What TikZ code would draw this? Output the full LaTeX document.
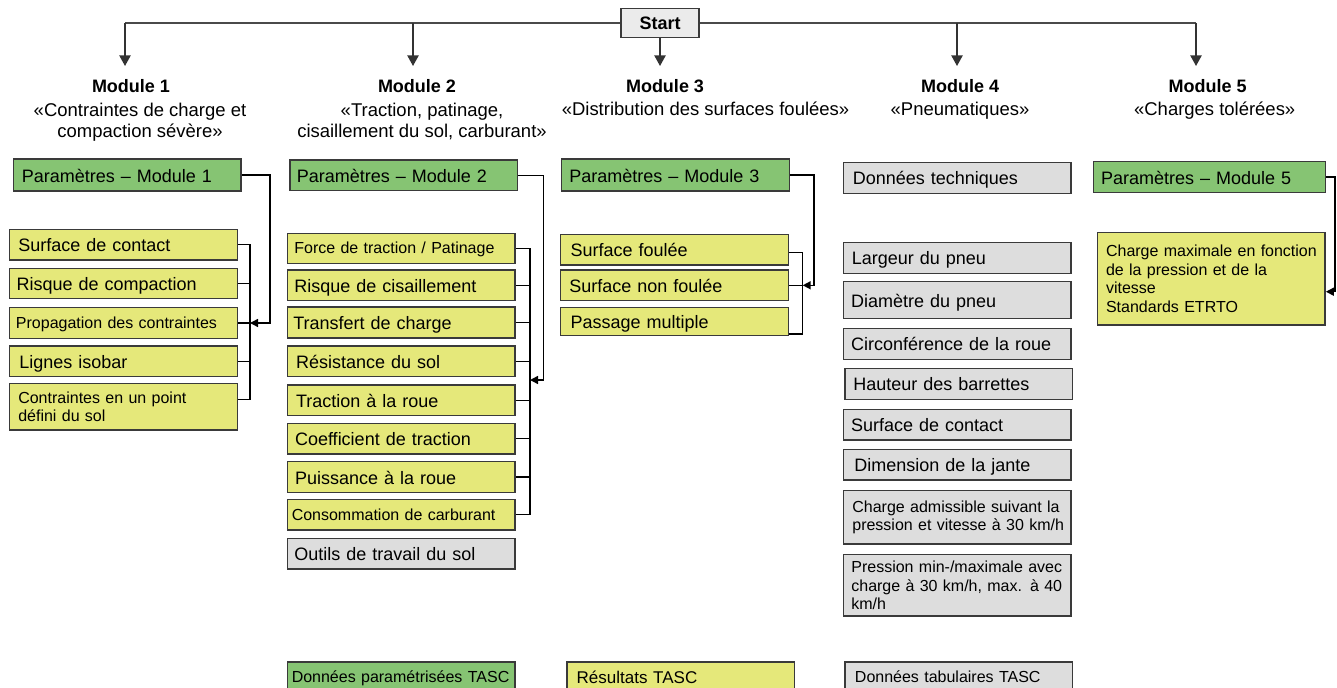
\documentclass[tikz,border=0pt]{standalone}
\usepackage{fontspec}
\setmainfont{Liberation Sans}
\usetikzlibrary{arrows.meta}
\definecolor{gcol}{HTML}{86C473}
\definecolor{ycol}{HTML}{E5E87A}
\definecolor{grcol}{HTML}{DDDDDD}
\definecolor{bcol}{HTML}{3A3A3A}
\definecolor{lcol}{HTML}{4A4A4A}
\definecolor{stcol}{HTML}{EBEBEB}
\tikzset{
  bw/.code 2 args={%
    \pgfmathsetlengthmacro\bwtw{(#1-2*#2)*0.75pt}%
    \pgfmathsetlengthmacro\bwmw{#1*0.75pt}%
    \pgfmathsetlengthmacro\bwxs{#2*0.75pt}%
    \edef\bwtmp{\noexpand\pgfkeysalso{minimum width=\bwmw, inner xsep=\bwxs, text width=\bwtw}}\bwtmp},
  bh/.style={minimum height=#1*0.75pt},
  box/.style={draw=bcol, line width=1.2pt, align=left, inner ysep=0pt},
  gbox/.style={box, fill=gcol},
  ybox/.style={box, fill=ycol},
  grbox/.style={box, fill=grcol},
  one/.style={font=\fontsize{13.5}{16}\selectfont, text height=13.5pt, text depth=3pt},
  onesm/.style={font=\fontsize{12}{13.5}\selectfont, text height=11.25pt, text depth=3pt},
  onemid/.style={font=\fontsize{12.75}{15}\selectfont, text height=12.5pt, text depth=3pt},
  multi/.style={font=\fontsize{12}{13.8}\selectfont},
  ttl/.style={font=\bfseries\fontsize{13.5}{16}\selectfont, inner sep=0pt},
  sub/.style={font=\fontsize{13.85}{15.75}\selectfont, align=center, inner sep=0pt},
  topline/.style={draw=lcol, line width=1.1pt},
  darr/.style={draw=black!80, line width=1.1pt, -{Triangle[width=8.5pt,length=8pt]}},
  conn/.style={draw=black, line width=1.1pt},
  sarr/.style={conn, -{Triangle[width=6pt,length=6pt]}},
}
\begin{document}
\begin{tikzpicture}[x=0.75pt,y=-0.75pt]
\path[use as bounding box] (0,0) rectangle (1337,688);
\clip (0,0) rectangle (1337,688);

% Start and top distribution
\node[draw=bcol, line width=1.2pt, fill=stcol, font=\bfseries\fontsize{13.5}{16}\selectfont,
      minimum width=78*0.75pt, minimum height=29*0.75pt, inner sep=0pt] (start) at (660,23) {Start};
\coordinate (c1) at (125,23);
\coordinate (c2) at (413,23);
\coordinate (c4) at (957,23);
\coordinate (c5) at (1196,23);
\coordinate (e1) at (125,66);
\coordinate (e2) at (413,66);
\coordinate (e3) at (660,66);
\coordinate (e4) at (957,66);
\coordinate (e5) at (1196,66);
\draw[topline] (start.west) -- (c1);
\draw[topline] (start.east) -- (c5);
\draw[darr] (c1) -- (e1);
\draw[darr] (c2) -- (e2);
\draw[darr] (start.south) -- (e3);
\draw[darr] (c4) -- (e4);
\draw[darr] (c5) -- (e5);

% Module titles
\node[ttl, anchor=base] (t1) at (131,92.7) {Module 1};
\node[sub, anchor=north] (s1) at (140,102.7) {«Contraintes de charge et\\compaction sévère»};
\node[ttl, anchor=base] (t2) at (417,92.7) {Module 2};
\node[sub, anchor=north] (s2) at (422,102.7) {«Traction, patinage,\\cisaillement du sol, carburant»};
\node[ttl, anchor=base] (t3) at (665,92.7) {Module 3};
\node[sub, anchor=north] (s3) at (705.5,101.7) {«Distribution des surfaces foulées»};
\node[ttl, anchor=base] (t4) at (960,92.7) {Module 4};
\node[sub, anchor=north] (s4) at (960,101.7) {«Pneumatiques»};
\node[ttl, anchor=base] (t5) at (1207.7,92.7) {Module 5};
\node[sub, anchor=north] (s5) at (1214.7,101.2) {«Charges tolérées»};

% Module 1
\node[gbox,one,bw={227.7}{8.4},bh=31.4] (p1) at (127.2,175) {Paramètres – Module 1};
\node[ybox,one,bw={228}{9},bh=30.7] (sc1) at (123.3,244.7) {Surface de contact};
\node[ybox,one,bw={228}{7.3},bh=30] (rc) at (123.3,283.3) {Risque de compaction};
\node[ybox,onesm,bw={228}{6.7},bh=30.7] (pc) at (123.3,323) {\mbox{Propagation des contraintes}};
\node[ybox,one,bw={228}{10},bh=30.7] (li) at (123.3,361.3) {Lignes isobar};
\node[ybox,multi,bw={228}{9},bh=46.7] (cp) at (123.3,406.7) {Contraintes en un point\\défini du sol};
\coordinate (j1b) at (250,399.3);
\draw[conn] (sc1.east) -| (j1b) -- (j1b -| cp.east);
\draw[conn] (rc.east) -- (rc.east -| j1b);
\draw[conn] (pc.east) -- (pc.east -| j1b);
\draw[conn] (li.east) -- (li.east -| j1b);
\draw[sarr] (p1.east) -- ++(28.3,0) |- (pc.east -| j1b);

% Module 2
\node[gbox,one,bw={227.3}{6.7},bh=30.7] (p2) at (403.7,175.3) {Paramètres – Module 2};
\node[ybox,onesm,bw={227.7}{7},bh=30] (ft) at (401.2,248.3) {\mbox{Force de traction / Patinage}};
\node[ybox,one,bw={227.7}{7},bh=30.7] (rci) at (401.2,285.3) {Risque de cisaillement};
\node[ybox,one,bw={227.7}{6},bh=30.7] (tc) at (401.2,322.5) {Transfert de charge};
\node[ybox,one,bw={227.7}{8.7},bh=30.7] (rs) at (401.2,361.3) {Résistance du sol};
\node[ybox,one,bw={227.7}{8.7},bh=30.7] (tr) at (401.2,400.3) {Traction à la roue};
\node[ybox,one,bw={227.7}{7.7},bh=30.7] (ct) at (401.2,438.7) {Coefficient de traction};
\node[ybox,one,bw={227.7}{7.7},bh=30.7] (pr) at (401.2,477) {Puissance à la roue};
\node[ybox,onesm,bw={227.7}{4.4},bh=30.7] (cc) at (401.2,514.7) {\mbox{Consommation de carburant}};
\node[grbox,one,bw={227.7}{7},bh=30.7] (ot) at (401.2,553.7) {Outils de travail du sol};
\coordinate (j2b) at (530,514.7);
\coordinate (j2a) at (530,380);
\draw[conn] (ft.east) -| (j2b) -- (cc.east);
\foreach \n in {rci,tc,rs,tr,ct,pr} \draw[conn] (\n.east) -- (\n.east -| j2b);
\draw[sarr] (p2.east) -- ++(25.4,0) |- (j2a);

% Module 3
\node[gbox,one,bw={227.7}{7.6},bh=31.4] (p3) at (675.5,175) {Paramètres – Module 3};
\node[ybox,one,bw={227.7}{10},bh=30.7] (sf) at (674.5,249.7) {Surface foulée};
\node[ybox,one,bw={227.7}{8.6},bh=30.7] (snf) at (674.5,285.3) {Surface non foulée};
\node[ybox,one,bw={227.7}{10},bh=28] (pm) at (674.5,321.3) {Passage multiple};
\coordinate (j3t) at (802.7,252.7);
\coordinate (j3b) at (802.7,334);
\draw[conn] (sf.east |- j3t) -- (j3t) -- (j3b) -- (pm.east |- j3b);
\draw[conn] (snf.east) -- (snf.east -| j3t);
\draw[sarr] (p3.east) -- ++(24,0) |- (snf.east -| j3t);

% Module 4
\node[grbox,one,bw={227.7}{9.4},bh=30.7] (dt) at (957.2,178) {Données techniques};
\node[grbox,one,bw={227.7}{8.4},bh=31] (lp) at (957.2,257.8) {Largeur du pneu};
\node[grbox,one,bw={227.7}{7.7},bh=36.7] (dp) at (957.2,300) {Diamètre du pneu};
\node[grbox,one,bw={227.7}{7.7},bh=31] (cr) at (957.2,343.8) {Circonférence de la roue};
\node[grbox,one,bw={227.7}{8.3},bh=31] (hb) at (958.8,383.8) {Hauteur des barrettes};
\node[grbox,one,bw={227.7}{7.7},bh=30.7] (sc4) at (957.2,424.7) {Surface de contact};
\node[grbox,one,bw={227.7}{11},bh=30.7] (dj) at (957.2,464.7) {Dimension de la jante};
\node[grbox,multi,bw={227.7}{9},bh=53.3] (ca) at (957.2,517.3) {\mbox{Charge admissible suivant la}\\\mbox{pression et vitesse à 30 km/h}};
\node[grbox,multi,bw={227.7}{8},bh=61.3] (pmx) at (957.2,585.3) {\mbox{Pression min-/maximale avec}\\\mbox{charge à 30 km/h, max. à 40}\\km/h};
\node[grbox,onesm,bw={227.7}{10},bh=31] (dtt) at (958.8,677.2) {\mbox{Données tabulaires TASC}};

% Module 5
\node[gbox,one,bw={232}{7.7},bh=30.7] (p5) at (1209.3,177) {Paramètres – Module 5};
\node[ybox,multi,bw={227.7}{8.7},bh=92.3] (y5) at (1211.2,278.8) {\mbox{Charge maximale en fonction}\\de la pression et de la\\vitesse\\Standards ETRTO};
\coordinate (j5) at (1335,291.7);
\draw[sarr] (p5.east) -| (j5) -- (j5 -| y5.east);

% Bottom legend boxes
\node[gbox,onesm,bw={227.7}{4.4},bh=31] (dpt) at (401.2,677.2) {\mbox{Données paramétrisées TASC}};
\node[ybox,onemid,bw={227.6}{10},bh=31] (rt) at (680.5,677.2) {Résultats TASC};
\end{tikzpicture}
\end{document}
